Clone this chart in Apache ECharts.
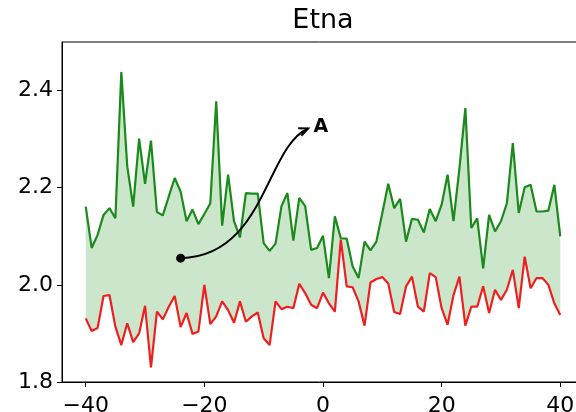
<!DOCTYPE html>
<html>
<head>
<meta charset="utf-8">
<script src="https://cdn.jsdelivr.net/npm/echarts@6/dist/echarts.min.js"></script>
<style>
  html, body { margin: 0; padding: 0; background: #fff; }
  #chart { width: 576px; height: 412px; }
</style>
</head>
<body>
<div id="chart"></div>
<script>
// x grid and the two curves
const xs = [-40, -39, -38, -37, -36, -35, -34, -33, -32, -31, -30, -29, -28, -27, -26, -25, -24, -23, -22, -21,
  -20, -19, -18, -17, -16, -15, -14, -13, -12, -11, -10, -9, -8, -7, -6, -5, -4, -3, -2, -1,
  0, 1, 2, 3, 4, 5, 6, 7, 8, 9, 10, 11, 12, 13, 14, 15, 16, 17, 18, 19,
  20, 21, 22, 23, 24, 25, 26, 27, 28, 29, 30, 31, 32, 33, 34, 35, 36, 37, 38, 39, 40];

const greenVals = [2.161, 2.076, 2.103, 2.144, 2.158, 2.137, 2.438, 2.244, 2.161, 2.301,
  2.208, 2.297, 2.150, 2.143, 2.182, 2.220, 2.192, 2.131, 2.155, 2.125,
  2.146, 2.168, 2.378, 2.122, 2.227, 2.131, 2.098, 2.189, 2.188, 2.188,
  2.086, 2.070, 2.085, 2.162, 2.189, 2.091, 2.179, 2.162, 2.072, 2.076,
  2.101, 2.014, 2.141, 2.096, 2.095, 2.038, 2.014, 2.089, 2.071, 2.089,
  2.148, 2.208, 2.158, 2.177, 2.089, 2.136, 2.134, 2.108, 2.156, 2.131,
  2.165, 2.227, 2.131, 2.240, 2.364, 2.117, 2.137, 2.034, 2.144, 2.110,
  2.131, 2.168, 2.292, 2.148, 2.201, 2.206, 2.151, 2.151, 2.153, 2.206, 2.100];

const redVals = [1.931, 1.905, 1.911, 1.977, 1.979, 1.914, 1.876, 1.921, 1.882, 1.900,
  1.957, 1.830, 1.945, 1.929, 1.955, 1.977, 1.913, 1.942, 1.899, 1.904,
  2.000, 1.919, 1.935, 1.966, 1.948, 1.922, 1.966, 1.924, 1.935, 1.943,
  1.890, 1.876, 1.966, 1.950, 1.955, 1.952, 2.002, 1.983, 1.959, 1.952,
  1.984, 1.962, 1.945, 2.093, 1.997, 1.995, 1.966, 1.916, 2.005, 2.012,
  2.016, 2.003, 1.944, 1.940, 1.997, 2.017, 1.955, 1.945, 2.024, 2.016,
  1.952, 1.918, 1.979, 2.017, 1.916, 1.955, 1.955, 1.997, 1.942, 1.990,
  1.969, 1.990, 2.031, 1.952, 2.058, 1.993, 2.014, 2.014, 2.000, 1.962, 1.938];

const xTicks = [-40, -20, 0, 20, 40];
const yTicks = [1.8, 2.0, 2.2, 2.4];

// annotation "A": dot, curved arrow (cubic), arrow tip and label, in data units
const annPoint = [-24, 2.055];
const annCtrl1 = [-9.8, 2.058];
const annCtrl2 = [-9.6, 2.285];
const annTip = [-2.5, 2.322];
const annTextPos = [-1.6, 2.324];
const annLabel = 'A';

const FONT = 'DejaVu Sans';

const pairs = (ys) => xs.map((x, i) => [x, ys[i]]);

var chart = echarts.init(document.getElementById('chart'), null, {renderer: 'canvas'});

chart.setOption({
  animation: false,
  backgroundColor: '#fff',
  title: {
    text: 'Etna',
    left: 323,
    top: 7,
    textAlign: 'center',
    padding: 0,
    textStyle: {fontFamily: FONT, fontSize: 27, fontWeight: 'normal', color: '#000'}
  },
  grid: {
    left: 62, top: 42, width: 522, height: 340,
    show: true, borderColor: '#000', borderWidth: 1,
    containLabel: false,
    outerBoundsMode: 'none'
  },
  xAxis: {
    type: 'value',
    min: -44, max: 44,
    splitLine: {show: false},
    axisLine: {show: true, onZero: false, lineStyle: {color: '#000', width: 1}},
    axisTick: {show: true, inside: false, length: 5, customValues: xTicks, lineStyle: {color: '#000'}},
    axisLabel: {
      customValues: xTicks, margin: 13,
      fontFamily: FONT, fontSize: 22, color: '#000',
      formatter: (v) => String(v).replace('-', '\u2212')
    }
  },
  yAxis: {
    type: 'value',
    min: 1.8, max: 2.5,
    splitLine: {show: false},
    axisLine: {show: true, onZero: false, lineStyle: {color: '#000', width: 1}},
    axisTick: {show: true, inside: false, length: 5, customValues: yTicks, lineStyle: {color: '#000'}},
    axisLabel: {
      customValues: yTicks, margin: 9,
      fontFamily: FONT, fontSize: 22, color: '#000',
      formatter: (v) => v.toFixed(1)
    }
  },
  series: [
    {
      // shaded band between the red and green curves
      type: 'custom',
      coordinateSystem: 'cartesian2d',
      silent: true, z: 1,
      data: [[xs[0], greenVals[0]]],
      renderItem: function (params, api) {
        var pts = [];
        for (var i = 0; i < xs.length; i++) pts.push(api.coord([xs[i], greenVals[i]]));
        for (var j = xs.length - 1; j >= 0; j--) pts.push(api.coord([xs[j], redVals[j]]));
        return {type: 'polygon', shape: {points: pts}, style: {fill: '#cce6cc', stroke: null}};
      }
    },
    {
      type: 'line', data: pairs(greenVals),
      symbol: 'none', lineStyle: {color: '#1a8a1a', width: 2.2}, z: 3
    },
    {
      type: 'line', data: pairs(redVals),
      symbol: 'none', lineStyle: {color: '#ee1f1f', width: 2.2}, z: 4
    },
    {
      type: 'custom',
      coordinateSystem: 'cartesian2d',
      clip: false, z: 10,
      data: [[annPoint[0], annPoint[1]]],
      renderItem: function (params, api) {
        var p0 = api.coord(annPoint);
        var c1 = api.coord(annCtrl1);
        var c2 = api.coord(annCtrl2);
        var p3 = api.coord(annTip);
        var t = api.coord(annTextPos);
        var ang = Math.atan2(p3[1] - c2[1], p3[0] - c2[0]);
        var hl = 10, hw = 0.42;
        var a1 = [p3[0] - hl * Math.cos(ang - hw), p3[1] - hl * Math.sin(ang - hw)];
        var a2 = [p3[0] - hl * Math.cos(ang + hw), p3[1] - hl * Math.sin(ang + hw)];
        return {
          type: 'group',
          children: [
            {
              type: 'bezierCurve',
              shape: {x1: p0[0], y1: p0[1], x2: p3[0], y2: p3[1],
                cpx1: c1[0], cpy1: c1[1], cpx2: c2[0], cpy2: c2[1]},
              style: {stroke: '#000', lineWidth: 2, fill: null}
            },
            {
              type: 'polyline',
              shape: {points: [a1, p3, a2]},
              style: {stroke: '#000', lineWidth: 2, fill: null}
            },
            {
              type: 'circle',
              shape: {cx: p0[0], cy: p0[1], r: 4.5},
              style: {fill: '#000'}
            },
            {
              type: 'text',
              x: t[0], y: t[1],
              style: {text: annLabel, fontFamily: FONT, fontSize: 19, fontWeight: 'bold',
                fill: '#000', align: 'left', verticalAlign: 'middle'}
            }
          ]
        };
      }
    }
  ]
});
</script>
</body>
</html>
